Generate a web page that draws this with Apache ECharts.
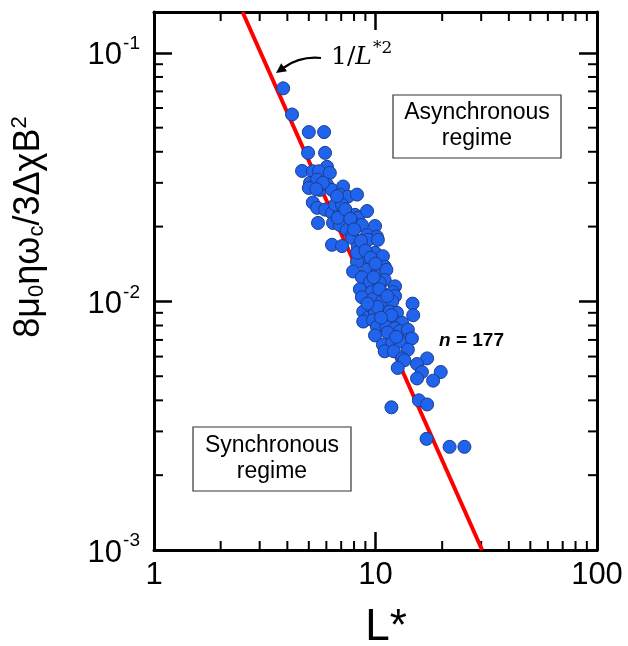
<!DOCTYPE html>
<html>
<head>
<meta charset="utf-8">
<script src="https://cdn.jsdelivr.net/npm/echarts@6/dist/echarts.min.js"></script>
<style>
html,body{margin:0;padding:0;background:#fff}
#main{width:628px;height:646px}
</style>
</head>
<body>
<div id="main"></div>
<script>
// L* of each sample
var lStar = [
	3.83, 4.2, 5.0, 5.86, 4.96, 5.92, 4.66, 6.04, 5.21, 5.55,
	6.22, 5.06, 5.45, 5.0, 5.61, 6.04, 6.36, 7.14, 6.9, 7.5,
	8.25, 5.21, 5.45, 5.92, 6.36, 6.9, 6.57, 7.06, 5.5, 6.43,
	6.9, 6.76, 8.08, 8.33, 9.16, 7.92, 8.68, 9.95, 7.43, 7.85,
	9.16, 10.15, 6.36, 7.06, 7.85, 9.25, 10.25, 8.33, 8.8, 9.95,
	10.8, 8.25, 9.45, 11.0, 7.92, 9.16, 10.25, 11.2, 8.68, 9.45,
	11.0, 10.45, 12.25, 8.5, 9.62, 10.55, 12.0, 12.25, 8.68, 9.73,
	10.7, 11.9, 14.7, 14.8, 8.8, 9.25, 9.95, 11.0, 11.6, 12.5,
	8.8, 9.73, 11.0, 12.1, 13.2, 10.15, 11.2, 12.25, 9.95, 11.35,
	12.9, 14.0, 14.0, 10.8, 11.9, 12.9, 14.6, 11.0, 12.1, 14.0,
	13.2, 17.1, 13.5, 12.6, 15.4, 16.2, 15.4, 19.7, 18.2, 15.7,
	17.1, 11.8, 17.0, 21.6, 25.2, 6.7, 8.25, 5.78, 5.4,
	7.3, 7.7, 8.0, 8.6, 9.0, 9.5, 10.0, 9.8, 10.4, 11.3, 10.2, 11.8, 10.6, 12.4, 9.2
];
// 8 mu0 eta omega_c / 3 dchi B^2 of each sample
var ratio = [
	0.072, 0.0565, 0.048, 0.048, 0.0396, 0.0396, 0.0335, 0.0348, 0.0334, 0.0334,
	0.0329, 0.030, 0.0309, 0.0286, 0.0281, 0.0295, 0.0281, 0.029, 0.0269, 0.0264,
	0.0269, 0.025, 0.0238, 0.0234, 0.0227, 0.0227, 0.0245, 0.0245, 0.0207, 0.0207,
	0.0203, 0.0217, 0.0223, 0.0217, 0.0231, 0.0207, 0.0203, 0.0201, 0.0194, 0.0185,
	0.0185, 0.0182, 0.0169, 0.0167, 0.018, 0.0177, 0.0177, 0.0166, 0.0157, 0.0157,
	0.0152, 0.0144, 0.0143, 0.0138, 0.0132, 0.0134, 0.0133, 0.0134, 0.0125, 0.012,
	0.0122, 0.0119, 0.0115, 0.0112, 0.0109, 0.011, 0.0109, 0.0105, 0.0104, 0.0102,
	0.010, 0.010, 0.0098, 0.0088, 0.0091, 0.0086, 0.009, 0.009, 0.0091, 0.009,
	0.0083, 0.0084, 0.0083, 0.0084, 0.0082, 0.0079, 0.0079, 0.0078, 0.0073, 0.0075,
	0.0076, 0.0077, 0.007, 0.0067, 0.0068, 0.0069, 0.0071, 0.0063, 0.0063, 0.0064,
	0.0059, 0.0059, 0.0058, 0.0054, 0.0056, 0.0052, 0.0049, 0.0052, 0.0048, 0.004,
	0.00385, 0.00375, 0.0028, 0.0026, 0.0026, 0.0265, 0.0157, 0.030, 0.0283,
	0.0235, 0.0215, 0.0195, 0.0175, 0.016, 0.015, 0.0142, 0.0125, 0.0112, 0.0105, 0.0095, 0.0088, 0.0086, 0.0072, 0.0098
];
// 1/L*^2 guide line, end points
var fitL = [2.51, 30.3];
var fitY = [0.146, 0.001];
// axis ticks
var xTicks = [1, 10, 100];
var yTicks = [0.001, 0.01, 0.1];
var xMinor = [2, 3, 4, 5, 6, 7, 8, 9, 20, 30, 40, 50, 60, 70, 80, 90];
var yMinor = [0.002, 0.003, 0.004, 0.005, 0.006, 0.007, 0.008, 0.009,
	0.02, 0.03, 0.04, 0.05, 0.06, 0.07, 0.08, 0.09];
var xMin = 1, xMax = 100, yMin = 0.001, yMax = 0.146;

var FONT = "'Liberation Sans', Arial, sans-serif";
var minorLen = 9;

function isTick(v, list) {
	for (var i = 0; i < list.length; i++) {
		if (Math.abs(Math.log10(v) - Math.log10(list[i])) < 1e-6) return true;
	}
	return false;
}

// minor ticks on all four sides of the frame
function renderMinor(params, api) {
	var v, side = api.value(2);
	var st = { stroke: '#000', lineWidth: 2 };
	var a, b;
	if (side === 0) {
		v = api.value(0);
		a = api.coord([v, yMin]);
		b = api.coord([v, yMax]);
		return { type: 'group', children: [
			{ type: 'line', shape: { x1: a[0], y1: a[1], x2: a[0], y2: a[1] - minorLen }, style: st },
			{ type: 'line', shape: { x1: b[0], y1: b[1], x2: b[0], y2: b[1] + minorLen }, style: st }
		] };
	}
	v = api.value(1);
	a = api.coord([xMin, v]);
	b = api.coord([xMax, v]);
	return { type: 'group', children: [
		{ type: 'line', shape: { x1: a[0], y1: a[1], x2: a[0] + minorLen, y2: a[1] }, style: st },
		{ type: 'line', shape: { x1: b[0], y1: b[1], x2: b[0] - minorLen, y2: b[1] }, style: st }
	] };
}

var points = [];
for (var i = 0; i < lStar.length; i++) points.push([lStar[i], ratio[i]]);
var fitData = [];
for (var j = 0; j < fitL.length; j++) fitData.push([fitL[j], fitY[j]]);
var minorData = [];
xMinor.forEach(function(v) { minorData.push([v, yMin, 0]); });
yMinor.forEach(function(v) { minorData.push([xMin, v, 1]); });

var axisLine = { show: true, lineStyle: { color: '#000', width: 3 } };
var majorTick = { show: true, inside: true, length: 18, lineStyle: { color: '#000', width: 2.5 } };

var myChart = echarts.init(document.getElementById('main'));
var option = {
	animation: false,
	backgroundColor: '#fff',
	grid: { left: 154, right: 31, top: 12, bottom: 96 },
	xAxis: [ {
		type: 'log', logBase: 10, min: xMin, max: xMax, interval: 1,
		position: 'bottom',
		axisLine: axisLine, axisTick: majorTick,
		splitLine: { show: false },
		axisLabel: {
			margin: 10, color: '#000', fontFamily: FONT, fontSize: 31,
			formatter: function(v) { return isTick(v, xTicks) ? String(Math.round(v)) : ''; }
		}
	}, {
		type: 'log', logBase: 10, min: xMin, max: xMax, interval: 1,
		position: 'top',
		axisLine: axisLine, axisTick: majorTick,
		splitLine: { show: false }, axisLabel: { show: false }
	} ],
	yAxis: [ {
		type: 'log', logBase: 10, min: yMin, max: yMax, interval: 1,
		position: 'left',
		axisLine: axisLine, axisTick: majorTick,
		splitLine: { show: false },
		axisLabel: {
			margin: 14, color: '#000', fontFamily: FONT, fontSize: 31,
			formatter: function(v) {
				if (!isTick(v, yTicks)) return '';
				return '{b|10}{s|' + Math.round(Math.log10(v)) + '}';
			},
			rich: {
				b: { fontFamily: FONT, fontSize: 31, color: '#000', padding: [6, 0, 0, 0] },
				s: { fontFamily: FONT, fontSize: 19, color: '#000', padding: [0, 0, 18, 1] }
			}
		}
	}, {
		type: 'log', logBase: 10, min: yMin, max: yMax, interval: 1,
		position: 'right',
		axisLine: axisLine, axisTick: majorTick,
		splitLine: { show: false }, axisLabel: { show: false }
	} ],
	series: [ {
		type: 'custom',
		silent: true,
		renderItem: renderMinor,
		data: minorData,
		z: 1
	}, {
		type: 'line',
		data: fitData,
		symbol: 'none',
		silent: true,
		lineStyle: { color: '#ff0000', width: 4 },
		z: 2
	}, {
		type: 'scatter',
		data: points,
		symbolSize: 13,
		itemStyle: { color: '#2064ee', borderColor: '#1d3c8c', borderWidth: 1, opacity: 1 },
		z: 3
	} ],
	graphic: [
		// y axis title
		{
			type: 'text', x: 29, y: 227, rotation: Math.PI / 2,
			style: {
				text: '{a|8μ}{b|0}{a|ηω}{b|c}{a|/3ΔχB}{c|2}',
				align: 'center', verticalAlign: 'middle',
				rich: {
					a: { fontFamily: FONT, fontSize: 36, fill: '#000' },
					b: { fontFamily: FONT, fontSize: 22, fill: '#000', padding: [16, 0, 0, 0] },
					c: { fontFamily: FONT, fontSize: 22, fill: '#000', padding: [0, 0, 18, 0] }
				}
			}
		},
		// x axis title
		{
			type: 'text', x: 386, y: 628,
			style: { text: 'L*', font: '44px ' + FONT, fill: '#000', align: 'center', verticalAlign: 'middle' }
		},
		// regime boxes
		{
			type: 'rect', shape: { x: 393, y: 95, width: 168, height: 63 },
			style: { fill: '#fff', stroke: '#333', lineWidth: 1.2 }, z: 10
		},
		{
			type: 'text', x: 477, y: 126, z: 11,
			style: { text: 'Asynchronous\nregime', font: '23px ' + FONT, fill: '#000',
				align: 'center', verticalAlign: 'middle', lineHeight: 26 }
		},
		{
			type: 'rect', shape: { x: 193, y: 427, width: 158, height: 64 },
			style: { fill: '#fff', stroke: '#333', lineWidth: 1.2 }, z: 10
		},
		{
			type: 'text', x: 272, y: 459, z: 11,
			style: { text: 'Synchronous\nregime', font: '23px ' + FONT, fill: '#000',
				align: 'center', verticalAlign: 'middle', lineHeight: 26 }
		},
		// n = 177
		{
			type: 'text', x: 439, y: 341, z: 11,
			style: {
				text: '{i|n}{b| = 177}', verticalAlign: 'middle',
				rich: {
					i: { fontFamily: FONT, fontSize: 19, fontWeight: 'bold', fontStyle: 'italic', fill: '#000' },
					b: { fontFamily: FONT, fontSize: 19, fontWeight: 'bold', fill: '#000' }
				}
			}
		},
		// 1/L*^2 label and arrow
		{
			type: 'text', x: 331, y: 57, z: 11,
			style: {
				text: '{a|1/}{l|L}{s|*2}', verticalAlign: 'middle',
				rich: {
					a: { fontFamily: "'DejaVu Serif', serif", fontSize: 25, fill: '#000' },
					l: { fontFamily: "'DejaVu Serif', serif", fontSize: 25, fontStyle: 'italic', fill: '#000' },
					s: { fontFamily: "'DejaVu Serif', serif", fontSize: 17, fill: '#000', padding: [0, 0, 16, 1] }
				}
			}
		},
		{
			type: 'bezierCurve', z: 11,
			shape: { x1: 321, y1: 58, cpx1: 300, cpy1: 56, x2: 284, y2: 67.5 },
			style: { stroke: '#000', lineWidth: 2.2, fill: null }
		},
		{
			type: 'polygon', z: 11,
			shape: { points: [[276, 73], [287, 71.3], [281.2, 63.2]] },
			style: { fill: '#000' }
		}
	]
};
myChart.setOption(option, true);
</script>
</body>
</html>
